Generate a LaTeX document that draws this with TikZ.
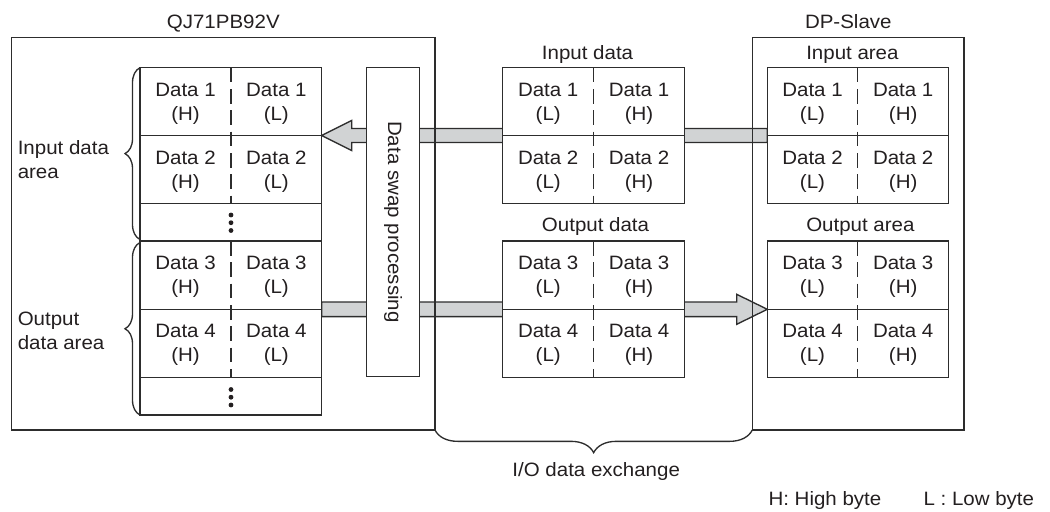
\documentclass[tikz,border=0pt]{standalone}
\usepackage{fontspec}
\setmainfont{Liberation Sans}[FakeStretch=1.06]
\usetikzlibrary{decorations.pathreplacing}
\definecolor{lc}{RGB}{45,45,45}
\definecolor{tc}{RGB}{35,31,32}
\definecolor{af}{RGB}{209,211,212}
\begin{document}
\begin{tikzpicture}[x=0.75pt,y=-0.75pt,
  every node/.style={text=tc, font=\fontsize{14.5}{18}\selectfont, inner sep=0pt},
  box/.style={draw=lc, line width=1pt},
  wbox/.style={draw=lc, line width=1pt, fill=white},
  cell/.style={align=center},
  divider/.style={draw=lc, line width=0.9pt, dash pattern=on 11pt off 5pt},
  band/.style={draw=lc, line width=1pt, fill=af, line join=miter},
  brc/.style={draw=lc, line width=1pt, decorate, decoration={brace, amplitude=#1}},
  dotf/.style={fill=tc, draw=none}
]
\useasboundingbox (0,0) rectangle (1050,511);

% wide arrows (drawn first, covered by boxes)
\draw[band] (767.3,128.5) -- (351.7,128.5) -- (351.7,120.5) -- (321.7,135.5)
  -- (351.7,150.5) -- (351.7,142.5) -- (767.3,142.5) -- cycle;
\draw[band] (321.7,302) -- (736.7,302) -- (736.7,294.3) -- (767.3,309.3)
  -- (736.7,324.3) -- (736.7,316.6) -- (321.7,316.6) -- cycle;

% outer boxes
\draw[box] (11.7,37.3) rectangle (435,430);
\draw[box] (752.3,37.3) rectangle (964,430);

% data swap processing
\draw[wbox] (366.7,67.7) rectangle (419.3,376.7);
\node[rotate=-90] (swap) at (393,222) {Data swap processing};

% left table (QJ71PB92V)
\draw[wbox] (140,67.7) rectangle (321.7,241);
\draw[box] (140,135.5) -- (321.7,135.5) (140,203.3) -- (321.7,203.3);
\draw[wbox] (140,241) rectangle (321.7,415);
\draw[box] (140,309.3) -- (321.7,309.3) (140,377.3) -- (321.7,377.3);
\draw[divider] (231,67.7) -- (231,203.3);
\draw[divider] (231,241) -- (231,377.3);
\node[cell] (l1h) at (185.5,103.6) {Data 1\\(H)};
\node[cell] (l1l) at (276.3,103.6) {Data 1\\(L)};
\node[cell] (l2h) at (185.5,171.4) {Data 2\\(H)};
\node[cell] (l2l) at (276.3,171.4) {Data 2\\(L)};
\node[cell] (l3h) at (185.5,277.2) {Data 3\\(H)};
\node[cell] (l3l) at (276.3,277.2) {Data 3\\(L)};
\node[cell] (l4h) at (185.5,345.3) {Data 4\\(H)};
\node[cell] (l4l) at (276.3,345.3) {Data 4\\(L)};
\fill[dotf] (231,215) circle (1.8pt) (231,222.7) circle (1.8pt) (231,230.5) circle (1.8pt);
\fill[dotf] (231,389.5) circle (1.8pt) (231,397.2) circle (1.8pt) (231,405) circle (1.8pt);

% middle tables
\draw[wbox] (502.7,67.7) rectangle (684.3,203.3);
\draw[box] (502.7,135.5) -- (684.3,135.5);
\draw[divider] (593.7,67.7) -- (593.7,203.3);
\draw[wbox] (502.7,241) rectangle (684.3,377.3);
\draw[box] (502.7,309.3) -- (684.3,309.3);
\draw[divider] (593.7,241) -- (593.7,377.3);
\node[cell] (m1l) at (548.2,103.6) {Data 1\\(L)};
\node[cell] (m1h) at (639,103.6) {Data 1\\(H)};
\node[cell] (m2l) at (548.2,171.4) {Data 2\\(L)};
\node[cell] (m2h) at (639,171.4) {Data 2\\(H)};
\node[cell] (m3l) at (548.2,277.2) {Data 3\\(L)};
\node[cell] (m3h) at (639,277.2) {Data 3\\(H)};
\node[cell] (m4l) at (548.2,345.3) {Data 4\\(L)};
\node[cell] (m4h) at (639,345.3) {Data 4\\(H)};

% slave tables
\draw[wbox] (767.3,67.7) rectangle (948.7,203.3);
\draw[box] (767.3,135.5) -- (948.7,135.5);
\draw[divider] (857.7,67.7) -- (857.7,203.3);
\draw[wbox] (767.3,241) rectangle (948.7,377.3);
\draw[box] (767.3,309.3) -- (948.7,309.3);
\draw[divider] (857.7,241) -- (857.7,377.3);
\node[cell] (s1l) at (812.5,103.6) {Data 1\\(L)};
\node[cell] (s1h) at (903.2,103.6) {Data 1\\(H)};
\node[cell] (s2l) at (812.5,171.4) {Data 2\\(L)};
\node[cell] (s2h) at (903.2,171.4) {Data 2\\(H)};
\node[cell] (s3l) at (812.5,277.2) {Data 3\\(L)};
\node[cell] (s3h) at (903.2,277.2) {Data 3\\(H)};
\node[cell] (s4l) at (812.5,345.3) {Data 4\\(L)};
\node[cell] (s4h) at (903.2,345.3) {Data 4\\(H)};

% braces
\draw[brc=11.25pt] (140,239.5) -- (140,67.7);
\draw[brc=11.25pt] (140,415) -- (140,242.5);
\draw[brc=17pt] (752.3,430) -- (435,430);

% labels
\node[anchor=base] (tqj) at (223.3,28.3) {QJ71PB92V};
\node[anchor=base] (tdp) at (848.3,28.3) {DP-Slave};
\node[anchor=base west] (tind) at (541.7,59.3) {Input data};
\node[anchor=base west] (toutd) at (541.7,231.7) {Output data};
\node[anchor=base west] (tina) at (806,59.3) {Input area};
\node[anchor=base west] (touta) at (806,231.7) {Output area};
\node[anchor=west, align=left] (tida) at (17.5,160) {Input data\\area};
\node[anchor=west, align=left] (toda) at (17.5,331) {Output\\data area};
\node[anchor=base] (tio) at (596.2,476.7) {I/O data exchange};
\node[anchor=base west] (th) at (768.3,505.7) {H: High byte};
\node[anchor=base west] (tl) at (923.3,505.7) {L : Low byte};
\end{tikzpicture}
\end{document}
